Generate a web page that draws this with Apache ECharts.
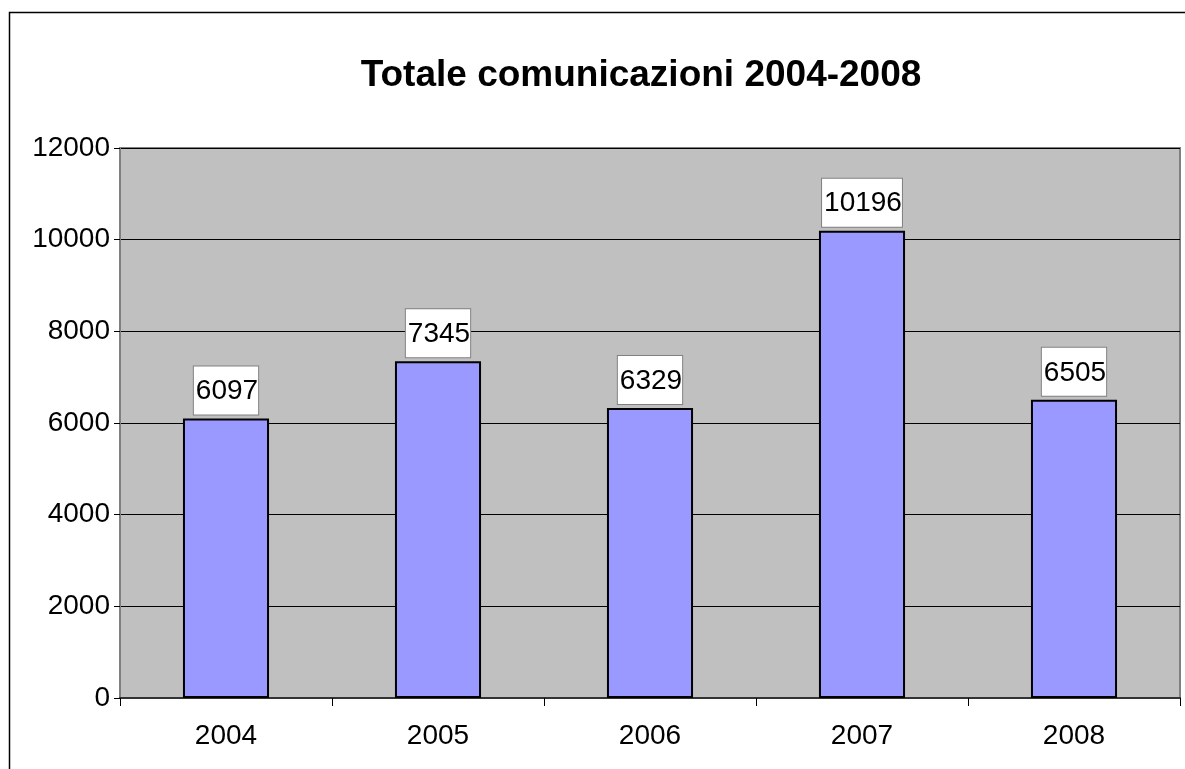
<!DOCTYPE html>
<html>
<head>
<meta charset="utf-8">
<style>
  html, body { margin: 0; padding: 0; background: #fff; }
  #chart { width: 1185px; height: 769px; }
</style>
<script src="https://cdn.jsdelivr.net/npm/echarts@6/dist/echarts.min.js"></script>
</head>
<body>
<div id="chart"></div>
<script>
// Annual totals of communications
const years = ['2004', '2005', '2006', '2007', '2008'];
const totals = [6097, 7345, 6329, 10196, 6505];
const yTicks = { min: 0, max: 12000, interval: 2000 };
const titleText = 'Totale comunicazioni 2004-2008';

const FONT = '"Liberation Sans", Arial, sans-serif';

const chart = echarts.init(document.getElementById('chart'), null, { renderer: 'canvas' });

chart.setOption({
  animation: false,
  backgroundColor: '#ffffff',
  title: {
    text: titleText,
    left: 636,
    textAlign: 'center',
    top: 52,
    textStyle: { fontFamily: FONT, fontSize: 37, fontWeight: 'bold', color: '#000' }
  },
  graphic: [{
    type: 'rect',
    shape: { x: 9.5, y: 12.5, width: 1200, height: 800 },
    style: { fill: 'none', stroke: '#000', lineWidth: 1.5 },
    silent: true,
    z: -1
  }],
  grid: {
    left: 120, right: 5, top: 148, bottom: 71,
    show: true,
    backgroundColor: '#C0C0C0',
    borderColor: '#808080',
    borderWidth: 2
  },
  xAxis: {
    type: 'category',
    data: years,
    boundaryGap: true,
    axisLine: { show: true, lineStyle: { color: '#333', width: 2 } },
    axisTick: { show: true, length: 8, lineStyle: { color: '#000', width: 1 } },
    axisLabel: { margin: 24, fontFamily: FONT, fontSize: 28, color: '#000' },
    splitLine: { show: false }
  },
  yAxis: {
    type: 'value',
    min: yTicks.min,
    max: yTicks.max,
    interval: yTicks.interval,
    axisLine: { show: true, lineStyle: { color: '#808080', width: 1 } },
    axisTick: { show: true, length: 6, lineStyle: { color: '#000', width: 1 } },
    axisLabel: {
      margin: 10, fontFamily: FONT, fontSize: 28, color: '#000',
      formatter: (v) => String(v)
    },
    splitLine: { show: true, lineStyle: { color: '#000', width: 1 } }
  },
  series: [{
    type: 'bar',
    data: totals,
    barWidth: '40.6%',
    itemStyle: { color: '#9999FF', borderColor: '#000', borderWidth: 2 },
    label: {
      show: true,
      position: 'top',
      distance: 4,
      fontFamily: FONT,
      fontSize: 28,
      lineHeight: 28,
      color: '#000',
      backgroundColor: '#fff',
      borderColor: '#808080',
      borderWidth: 1,
      padding: [11, 0, 9, 2]
    }
  }]
});
</script>
</body>
</html>
